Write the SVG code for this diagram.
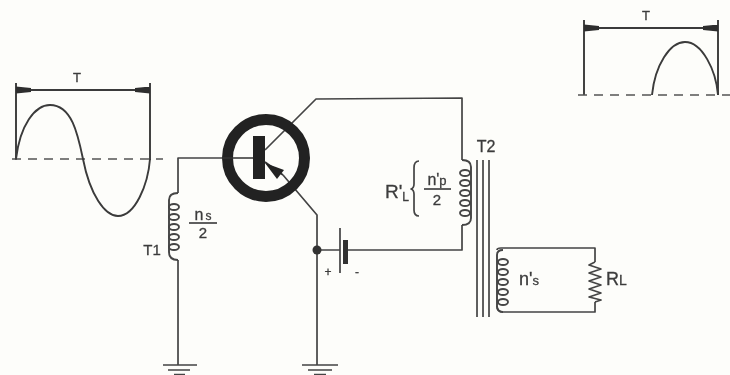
<svg xmlns="http://www.w3.org/2000/svg" width="730" height="375" viewBox="0 0 730 375">
<defs>
<filter id="b" x="-5%" y="-5%" width="110%" height="110%"><feGaussianBlur stdDeviation="0.55"/></filter>
<marker id="ah" markerWidth="16" markerHeight="8" refX="15" refY="3.5" orient="auto-start-reverse" markerUnits="userSpaceOnUse"><path d="M0 1.5L15 0V7L0 5.5Z" fill="#2e2e2e"/></marker>
<g id="loop"><ellipse cx="0" cy="0" rx="5" ry="3"/></g>
</defs>
<style>
.w{fill:none;stroke:#444;stroke-width:1.7;stroke-linejoin:round}
.c{fill:none;stroke:#444;stroke-width:1.9}
.d{fill:none;stroke:#555;stroke-width:1.5;stroke-dasharray:9 7}
.s{fill:none;stroke:#3a3a3a;stroke-width:1.9}
text{font-family:"Liberation Sans",Arial,sans-serif;fill:#3c3c3c;font-size:15px;stroke:#3c3c3c;stroke-width:.3}
</style>
<rect width="730" height="375" fill="#fdfdfa"/>
<g filter="url(#b)">
<g id="connectors">
<path class="w" d="M222 158H178V193M178 260V365"/>
<path class="w" d="M265 150L316 99L462 98V160M462 225V250H346"/>
<path class="w" d="M283 175L317 215V365M317 250H340"/>
<path class="w" d="M497 250Q497 248 501 248H595V262M595 302V312H503Q497 312 497 306"/>
</g>
<g id="wave-left">
<path class="s" d="M16 83V160M150 83V160"/>
<path class="s" d="M16 90H150" marker-start="url(#ah)" marker-end="url(#ah)"/>
<path class="d" d="M12 159H163"/>
<path class="s" d="M16 159C20 125 35 105 50 105C72 105 78 135 83 159C90 195 105 216 118 216C135 216 148 185 150 159"/>
<text x="77" y="82" text-anchor="middle" style="font-size:13px">T</text>
</g>
<g id="wave-right">
<path class="s" d="M584 20V95M718 20V95"/>
<path class="s" d="M584 28H718" marker-start="url(#ah)" marker-end="url(#ah)"/>
<path class="d" d="M578 95H730"/>
<path class="s" d="M652 95C655 65 670 42 685 42C702 42 716 70 718 95"/>
<text x="646" y="20" text-anchor="middle" style="font-size:13px">T</text>
</g>
<g id="transistor">
<circle cx="266" cy="158" r="38.500" fill="none" stroke="#222" stroke-width="11"/>
<rect x="253" y="136" width="12" height="43" fill="#222"/>
<path class="w" style="stroke:#333" d="M222 158H253M265 162L283 175"/>
<path d="M265 163L284 170L277 179Z" fill="#222"/>
</g>
<g id="t1-coil">
<path class="c" d="M178 193Q169 193 169 200V252Q169 260 178 260"/>
<use href="#loop" x="174" y="207" class="c"/><use href="#loop" x="174" y="217" class="c"/><use href="#loop" x="174" y="227" class="c"/><use href="#loop" x="174" y="237" class="c"/><use href="#loop" x="174" y="247" class="c"/>
<text x="203" y="220" text-anchor="middle" style="font-size:16px">n<tspan dx="2" style="font-size:12px">s</tspan></text>
<path class="w" d="M189 223H217"/>
<text x="203" y="238" text-anchor="middle">2</text>
<text x="152" y="255" text-anchor="middle">T1</text>
</g>
<g id="t2-primary">
<path class="c" d="M462 160Q471 160 471 167V218Q471 225 462 225"/>
<use href="#loop" x="465" y="173" class="c"/><use href="#loop" x="465" y="183" class="c"/><use href="#loop" x="465" y="193" class="c"/><use href="#loop" x="465" y="203" class="c"/><use href="#loop" x="465" y="213" class="c"/>
<text x="385" y="198" style="font-size:19px">R'<tspan dy="3" style="font-size:12px">L</tspan></text>
<path class="w" d="M419 161Q414 161 414 168V184Q414 188 411 189Q414 190 414 194V210Q414 216 419 216"/>
<text x="437" y="185" text-anchor="middle" style="font-size:16px">n'<tspan style="font-size:13px">p</tspan></text>
<path class="w" d="M424 189H451"/>
<text x="437" y="205" text-anchor="middle">2</text>
</g>
<g id="t2-core">
<path class="w" d="M477 160V317M483 160V317M489 160V317"/>
<text x="486" y="152" text-anchor="middle" style="font-size:16px">T2</text>
</g>
<g id="t2-secondary">
<path class="c" d="M503 250Q497 250 497 255V306Q497 312 503 312"/>
<use href="#loop" x="503" y="262" class="c"/><use href="#loop" x="503" y="272" class="c"/><use href="#loop" x="503" y="282" class="c"/><use href="#loop" x="503" y="292" class="c"/><use href="#loop" x="503" y="302" class="c"/>
<text x="529" y="285" text-anchor="middle" style="font-size:18px">n'<tspan style="font-size:13px">s</tspan></text>
</g>
<g id="rl">
<path class="w" d="M595 262L589 265L601 269L589 273L601 277L589 281L601 285L589 289L601 293L589 297L601 300L595 302"/>
<text x="606" y="285" style="font-size:18px">R<tspan style="font-size:14px">L</tspan></text>
</g>
<g id="battery">
<circle cx="317" cy="250" r="4.500" fill="#333"/>
<path class="w" d="M340 228V273"/>
<rect x="343" y="240" width="5" height="24" fill="#333"/>
<text x="328" y="276" text-anchor="middle" style="font-size:12px">+</text>
<text x="357" y="276" text-anchor="middle" style="font-size:12px">-</text>
</g>
<g id="ground-left">
<path class="w" d="M163 365H197M168 370H190M174 374.500H185"/>
</g>
<g id="ground-right">
<path class="w" d="M302 365H338M308 370H332M314 374.500H326"/>
</g>
</g>
</svg>
